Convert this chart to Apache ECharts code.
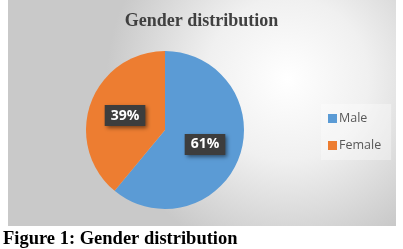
<!DOCTYPE html>
<html>
<head>
<meta charset="utf-8">
<style>
html,body{margin:0;padding:0;background:#fff;}
#c{width:403px;height:249px;}
</style>
<script src="https://cdn.jsdelivr.net/npm/echarts@6/dist/echarts.min.js"></script>
</head>
<body>
<div id="c"></div>
<script>
var categories = ['Male', 'Female'];
var values = [61, 39];
var colors = ['#5B9BD5', '#ED7D31'];
var titleText = 'Gender distribution';
var captionText = 'Figure 1: Gender distribution';

var chart = echarts.init(document.getElementById('c'), null, {renderer: 'canvas'});
chart.setOption({
  animation: false,
  color: colors,
  graphic: [
    {
      type: 'rect', z: -10, silent: true,
      shape: {x: 8, y: 0, width: 388, height: 226},
      style: {
        fill: new echarts.graphic.RadialGradient(0.72, 0.35, 0.8, [
          {offset: 0, color: '#ffffff'},
          {offset: 0.45, color: '#f0f0f0'},
          {offset: 1, color: '#c9c9c9'}
        ])
      }
    },
    {
      type: 'text', left: 3, top: 230,
      style: {text: captionText, font: 'bold 18.5px "Liberation Serif", "Times New Roman", serif', fill: '#000'}
    },
    {
      type: 'text', left: 'center', top: 12, z: 10,
      style: {text: titleText, x: 0, font: 'bold 18px "Liberation Serif", "Times New Roman", serif', fill: '#404040'}
    }
  ],
  legend: {
    orient: 'vertical',
    left: 321, top: 104,
    padding: [8, 10, 8, 7],
    backgroundColor: 'rgba(255,255,255,0.35)',
    itemWidth: 9, itemHeight: 9, itemGap: 14,
    icon: 'rect',
    data: categories,
    textStyle: {fontFamily: '"Open Sans", "Noto Sans", sans-serif', fontSize: 12.5, color: '#595959', padding: [0, 0, 0, -3]}
  },
  series: [{
    type: 'pie',
    center: [165, 130],
    radius: 79,
    startAngle: 90,
    clockwise: true,
    label: {
      show: true,
      position: 'inside',
      formatter: '{d}%',
      color: '#fff',
      fontFamily: '"Open Sans", "Noto Sans", sans-serif',
      fontWeight: 'bold',
      fontSize: 14,
      backgroundColor: '#3d3d3d',
      padding: [4, 6, 3, 6],
      shadowColor: 'rgba(0,0,0,0.5)',
      shadowBlur: 4,
      shadowOffsetX: 2,
      shadowOffsetY: 2
    },
    labelLine: {show: false},
    itemStyle: {borderWidth: 0},
    data: categories.map(function (n, i) { return {name: n, value: values[i]}; })
  }]
});
</script>
</body>
</html>
